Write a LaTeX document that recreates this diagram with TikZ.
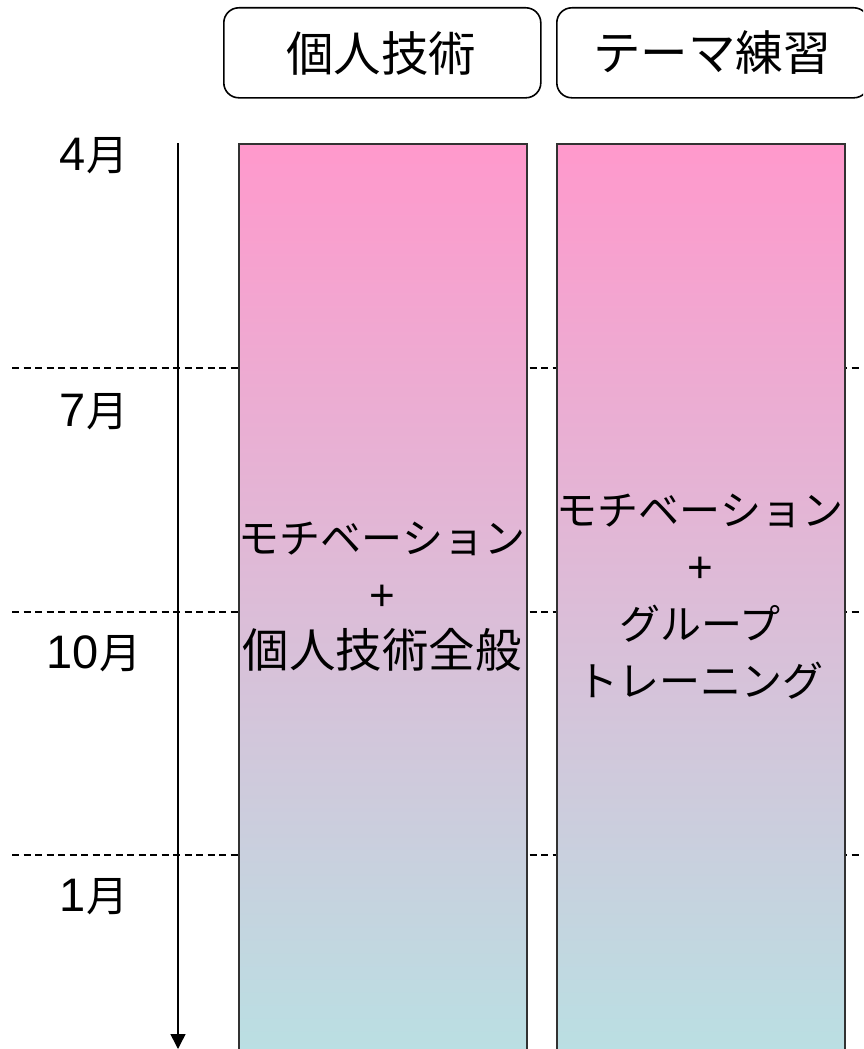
\documentclass[tikz,border=0pt]{standalone}
\usepackage{fontspec}
\setmainfont{Liberation Sans}
\newfontfamily\jpf{Noto Sans CJK JP}
\usetikzlibrary{arrows.meta}
\definecolor{pinktop}{RGB}{255,153,204}
\definecolor{cyanbot}{RGB}{185,224,227}
\definecolor{rectborder}{RGB}{50,50,50}
\newcommand{\kata}[1]{{\jpf\fontsize{41}{57}\selectfont #1}}
\newcommand{\kanj}[1]{{\jpf\fontsize{46.5}{57}\selectfont #1}}
\newcommand{\jmon}{{\jpf\fontsize{42}{46}\selectfont 月}}
\tikzset{
  headbox/.style={draw=black, line width=1.6pt, rounded corners=15pt, fill=white,
    minimum height=90pt, inner sep=0pt, anchor=north west},
  headtext/.style={font=\jpf\fontsize{47.5}{50}\selectfont, inner sep=0pt},
  barbox/.style={draw=rectborder, line width=1.5pt, top color=pinktop, bottom color=cyanbot,
    anchor=north west, inner sep=0pt},
  bartext/.style={font=\fontsize{44}{57}\selectfont, align=center, inner sep=0pt},
  month/.style={font=\fontsize{47}{50}\selectfont, inner sep=0pt, anchor=base},
  guide/.style={draw=black, line width=1.3pt, dash pattern=on 7pt off 4.5pt},
  axis/.style={draw=black, line width=1.5pt, -{Triangle[length=15pt,width=15pt]}}
}
\begin{document}
\begin{tikzpicture}[x=1pt,y=-1pt]
\useasboundingbox (0,0) rectangle (863,1049);
\clip (0,0) rectangle (863,1049);
% dashed guides (behind bars)
\foreach \yy/\nm in {368/a,612/b,855/c}{
  \coordinate (gl\nm) at (12,\yy);
  \coordinate (gr\nm) at (863,\yy);
  \draw[guide] (gl\nm) -- (gr\nm);
}
% header boxes
\node[headbox, minimum width=317pt] (h1) at (223,7) {};
\node[headbox, minimum width=312pt] (h2) at (556,7) {};
\node[headtext] (h1t) at (381,53) {個人技術};
\node[headtext] (h2t) at (712,53) {テーマ練習};
% bars
\node[barbox, minimum width=288pt, minimum height=920pt] (b1) at (238,143) {};
\node[barbox, minimum width=288pt, minimum height=920pt] (b2) at (556,143) {};
\node[bartext] (b1t) at (382,597) {\kata{モチベーション}\\+\\\kanj{個人技術全般}};
\node[bartext] (b2t) at (700,597) {\kata{モチベーション}\\+\\\kata{グループ}\\\kata{トレーニング}};
% months
\node[month] (m4) at (94,170) {4\jmon};
\node[month] (m7) at (94,426) {7\jmon};
\node[month] (m10) at (94,668) {10\jmon};
\node[month] (m1) at (94,911) {1\jmon};
% time axis
\coordinate (axtop) at (178,143);
\coordinate (axbot) at (178,1049);
\draw[axis] (axtop) -- (axbot);
\end{tikzpicture}
\end{document}
